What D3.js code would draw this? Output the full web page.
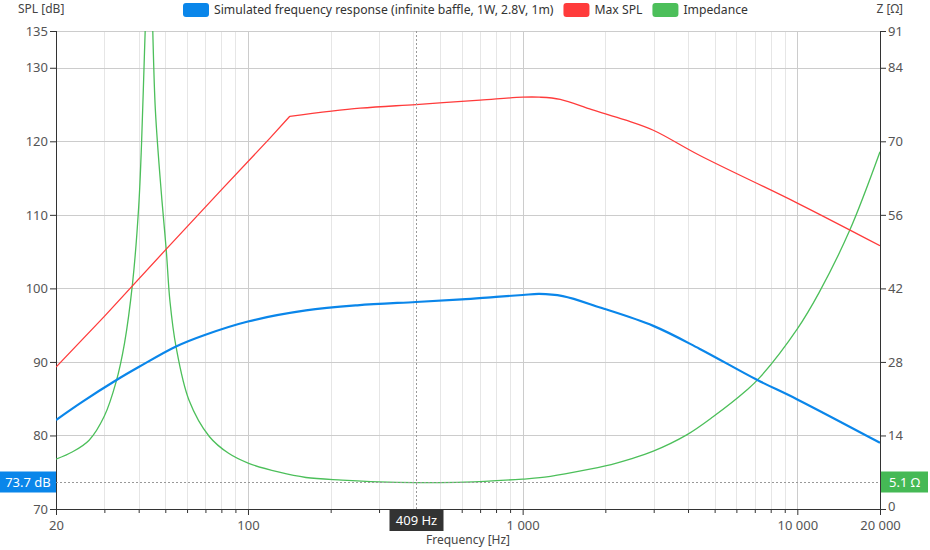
<!DOCTYPE html>
<html><head><meta charset="utf-8">
<script src="https://cdn.jsdelivr.net/npm/d3@7"></script>
<style>
html,body{margin:0;padding:0;background:#fff;}
svg{display:block;font-family:"Noto Sans","Open Sans",sans-serif;}
</style></head>
<body><svg id="c" width="930" height="550"></svg>
<script>
// ---- data ----
const splFreq = [20, 25, 33.1, 40, 54.7, 70, 100, 162.6, 250, 409, 600, 800, 1000, 1150, 1400, 1914, 2990, 4400, 7100, 10000, 20000];
const splValues = [82.1, 84.6, 87.5, 89.3, 92.1, 93.7, 95.5, 97.0, 97.7, 98.15, 98.5, 98.85, 99.1, 99.25, 98.95, 97.4, 94.9, 91.8, 87.6, 84.9, 79.0];

const maxFreq = [20, 30, 50, 80, 120, 142, 256, 409, 700, 1000, 1150, 1370, 1786, 2360, 2990, 4400, 10000, 20000];
const maxValues = [89.3, 96.2, 105.2, 113.4, 120.4, 123.4, 124.5, 125.0, 125.6, 126.0, 126.0, 125.7, 124.3, 122.9, 121.5, 118.1, 111.6, 105.8];
const maxKneeFreq = 142; // straight rising segment ends here

const impFreq = [20, 23, 26.4, 30, 33.1, 35.5, 38, 40, 41, 42, 43, 43.6, 44.5, 46, 48.6, 50.4, 52, 54.7, 61, 72.3, 85, 100.6, 130, 162.6, 220, 300, 409, 616, 1000, 1156, 1426, 2000, 2480, 2990, 3956, 4920, 6550, 7320, 10000, 12000, 15500, 20000];
const impValues = [9.5, 10.9, 13.1, 17.7, 24.2, 31.5, 43, 57.5, 70, 87, 102, 106, 99, 76, 58.8, 49.3, 39.5, 30.9, 20.7, 13.8, 10.6, 8.7, 7.0, 6.0, 5.5, 5.15, 5.02, 5.1, 5.7, 5.96, 6.7, 8.2, 9.55, 11.0, 14.1, 17.5, 22.65, 25.1, 34.3, 41.2, 53.0, 68.0];

const splTicks = [70, 80, 90, 100, 110, 120, 130, 135];
const impTicks = [0, 14, 28, 42, 56, 70, 84, 91];
const freqLabels = [20, 100, 1000, 10000, 20000];

const seriesNames = ["Simulated frequency response (infinite baffle, 1W, 2.8V, 1m)", "Max SPL", "Impedance"];
const seriesColors = ["#0a86ea", "#ff3b3b", "#4cbf5a"];

const cursorFreq = 409, cursorSpl = 73.7, cursorImp = 5.1;

// ---- layout ----
const L = 56, R = 880, T = 31, B = 509;
const svg = d3.select("#c");
const x = d3.scaleLog().domain([20, 20000]).range([L, R]);
const yS = d3.scaleLinear().domain([70, 135]).range([B, T]);
const yZ = d3.scaleLinear().domain([0, 91]).range([B, T]);

// grid
const minor = [];
[10, 100, 1000, 10000].forEach(d => { for (let k = 2; k <= 9; k++) { const v = d * k; if (v > 20 && v < 20000 && ![100,1000,10000].includes(v)) minor.push(v); } });
const major = [100, 1000, 10000];
const g = svg.append("g");
g.selectAll(".vmin").data(minor).join("line")
  .attr("x1", d => Math.round(x(d)) + 0.5).attr("x2", d => Math.round(x(d)) + 0.5)
  .attr("y1", T).attr("y2", B).attr("stroke", "#e6e6e6");
g.selectAll(".vmaj").data(major).join("line")
  .attr("x1", d => Math.round(x(d)) + 0.5).attr("x2", d => Math.round(x(d)) + 0.5)
  .attr("y1", T).attr("y2", B).attr("stroke", "#cccccc");
g.selectAll(".h").data(splTicks.filter(d => d > 70)).join("line")
  .attr("x1", L).attr("x2", R)
  .attr("y1", d => Math.round(yS(d)) + 0.5).attr("y2", d => Math.round(yS(d)) + 0.5)
  .attr("stroke", "#cccccc");

// axes
const axB = svg.append("g").attr("transform", `translate(0,${B})`)
  .call(d3.axisBottom(x).tickValues(freqLabels.concat(minor)).tickSize(6).tickFormat(d => freqLabels.includes(d) ? d3.format(",")(d).replace(/,/g, " ") : ""));
axB.selectAll(".tick line").attr("y2", d => freqLabels.includes(d) ? 6 : 4);
const axL = svg.append("g").attr("transform", `translate(${L},0)`)
  .call(d3.axisLeft(yS).tickValues(splTicks).tickSize(6));
const axR = svg.append("g").attr("transform", `translate(${R},0)`)
  .call(d3.axisRight(yZ).tickValues(impTicks).tickSize(6));
[axB, axL, axR].forEach(a => {
  a.selectAll(".tick line").attr("stroke", "#333");
  a.selectAll(".tick text").attr("fill", "#555").style("font-size", "13px").style("font-family", "'Noto Sans',sans-serif");
  a.select(".domain").remove();
});
svg.append("line").attr("x1", L).attr("x2", R).attr("y1", B + 0.5).attr("y2", B + 0.5).attr("stroke", "#333");
svg.append("line").attr("x1", L + 0.5).attr("x2", L + 0.5).attr("y1", T).attr("y2", B).attr("stroke", "#333");
svg.append("line").attr("x1", R + 0.5).attr("x2", R + 0.5).attr("y1", T).attr("y2", B).attr("stroke", "#333");
axB.selectAll(".tick text").attr("dy", "0.9em");
axL.selectAll(".tick text").attr("x", -8);
axR.selectAll(".tick text").attr("x", 8).attr("dy", d => d === 0 ? "0.1em" : "0.32em");

// clip
svg.append("defs").append("clipPath").attr("id", "clip")
  .append("rect").attr("x", L).attr("y", T).attr("width", R - L).attr("height", B - T);

const plot = svg.append("g").attr("clip-path", "url(#clip)");
const mk = (fs, vs) => fs.map((f, i) => [f, vs[i]]);
const crv = d3.curveCatmullRom.alpha(0.5);
const lineS = d3.line().x(d => x(d[0])).y(d => yS(d[1])).curve(crv);
const lineSlin = d3.line().x(d => x(d[0])).y(d => yS(d[1]));
const lineZ = d3.line().x(d => x(d[0])).y(d => yZ(d[1])).curve(crv);

plot.append("path").attr("d", lineZ(mk(impFreq, impValues))).attr("fill", "none").attr("stroke", seriesColors[2]).attr("stroke-width", 1.3);
const maxPts = mk(maxFreq, maxValues);
const kneeIdx = maxFreq.indexOf(maxKneeFreq);
plot.append("path")
  .attr("d", lineSlin(maxPts.slice(0, kneeIdx + 1)) + lineS(maxPts.slice(kneeIdx)))
  .attr("fill", "none").attr("stroke", seriesColors[1]).attr("stroke-width", 1.3);
plot.append("path").attr("d", lineS(mk(splFreq, splValues))).attr("fill", "none").attr("stroke", seriesColors[0]).attr("stroke-width", 2.2);

// crosshair
const cx = Math.round(x(cursorFreq)) + 0.5, cy = Math.round(yS(cursorSpl)) + 0.5;
svg.append("line").attr("x1", cx).attr("x2", cx).attr("y1", T).attr("y2", B).attr("stroke", "#999").attr("stroke-dasharray", "2,2");
svg.append("line").attr("x1", L).attr("x2", R).attr("y1", cy).attr("y2", cy).attr("stroke", "#999").attr("stroke-dasharray", "2,2");

// cursor labels
function box(xc, yc, w, h, fill, txt) {
  svg.append("rect").attr("x", xc).attr("y", yc).attr("width", w).attr("height", h).attr("fill", fill);
  svg.append("text").attr("x", xc + w / 2).attr("y", yc + h / 2).attr("dy", "0.35em").attr("text-anchor", "middle")
    .attr("fill", "#fff").style("font-size", "13px").text(txt);
}
box(0, cy - 11, 56, 21, seriesColors[0], cursorSpl + " dB");
box(881, cy - 11, 47, 21, "#45b955", cursorImp + " \u03A9");
box(cx - 27, 510, 54, 21, "#333", cursorFreq + " Hz");

// axis titles
svg.append("text").attr("x", 18).attr("y", 13).attr("fill", "#444").style("font-size", "12px").text("SPL [dB]");
svg.append("text").attr("x", 903).attr("y", 13).attr("text-anchor", "end").attr("fill", "#444").style("font-size", "12px").text("Z [\u03A9]");
svg.append("text").attr("x", 468).attr("y", 544).attr("text-anchor", "middle").attr("fill", "#444").style("font-size", "12px").text("Frequency [Hz]");

// legend
const lg = svg.append("g");
let lx = 183;
seriesNames.forEach((n, i) => {
  lg.append("rect").attr("x", lx).attr("y", 3).attr("width", 26).attr("height", 14).attr("rx", 3).attr("fill", seriesColors[i]);
  const t = lg.append("text").attr("x", lx + 31).attr("y", 13.5).attr("fill", "#333").style("font-size", "12.2px").text(n);
  lx += 31 + t.node().getComputedTextLength() + 10;
});
</script></body></html>
